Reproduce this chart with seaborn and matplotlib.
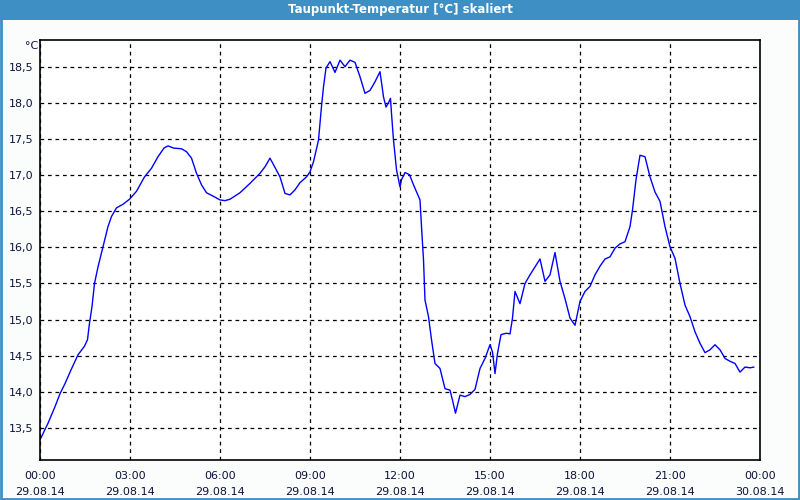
import matplotlib
matplotlib.use("Agg")
import matplotlib.pyplot as plt
import seaborn as sns
import pandas as pd
from matplotlib.patches import Rectangle
from matplotlib.ticker import MultipleLocator

# time in minutes since 29.08.14 00:00
minutes = [0, 16, 30, 40, 50, 62, 76, 89, 95, 99, 104, 109, 116, 126, 136, 143, 153, 166, 179, 193,
           209, 223, 236, 248, 256, 267, 283, 293, 303, 313, 323, 333, 347, 360, 370, 380, 400, 420,
           440, 450, 460, 470, 480, 490, 500, 510, 520, 533, 540, 547, 557, 563, 567, 572, 580, 590,
           600, 610, 620, 630, 640, 650, 660, 670, 680, 687, 692, 697, 701, 703, 707, 713, 720, 723,
           730, 739, 747, 760, 763, 767, 770, 777, 783, 790, 800, 810, 820, 825, 831, 840, 850, 860,
           870, 880, 890, 900, 905, 910, 915, 922, 933, 940, 945, 950, 960, 970, 980, 990, 1000, 1010,
           1020, 1030, 1040, 1050, 1060, 1070, 1080, 1090, 1100, 1110, 1120, 1130, 1140, 1150, 1160,
           1170, 1180, 1185, 1192, 1200, 1210, 1220, 1230, 1240, 1250, 1260, 1270, 1280, 1290, 1300,
           1310, 1320, 1330, 1340, 1350, 1360, 1370, 1380, 1390, 1400, 1410, 1420, 1428]
dewpoint = [13.33, 13.56, 13.79, 13.97, 14.11, 14.30, 14.51, 14.63, 14.72, 14.95, 15.18, 15.50, 15.73,
            16.01, 16.29, 16.43, 16.55, 16.60, 16.67, 16.78, 16.98, 17.10, 17.26, 17.38, 17.41, 17.38,
            17.37, 17.33, 17.24, 17.03, 16.87, 16.76, 16.71, 16.66, 16.65, 16.67, 16.76, 16.89, 17.03,
            17.12, 17.24, 17.11, 16.98, 16.75, 16.73, 16.80, 16.90, 16.98, 17.05, 17.19, 17.49, 17.96,
            18.23, 18.49, 18.58, 18.43, 18.60, 18.51, 18.60, 18.57, 18.37, 18.14, 18.18, 18.30, 18.44,
            18.09, 17.95, 18.01, 18.07, 17.86, 17.49, 17.08, 16.84, 16.94, 17.04, 17.01, 16.87, 16.66,
            16.29, 15.83, 15.27, 15.04, 14.72, 14.39, 14.32, 14.04, 14.02, 13.88, 13.70, 13.95, 13.93,
            13.96, 14.03, 14.32, 14.46, 14.65, 14.55, 14.25, 14.53, 14.79, 14.81, 14.80, 15.02, 15.39,
            15.22, 15.50, 15.62, 15.73, 15.84, 15.53, 15.62, 15.93, 15.53, 15.29, 15.02, 14.92, 15.25,
            15.39, 15.46, 15.62, 15.74, 15.84, 15.87, 15.99, 16.05, 16.08, 16.29, 16.52, 16.94, 17.28,
            17.26, 16.98, 16.77, 16.64, 16.29, 16.01, 15.85, 15.50, 15.20, 15.04, 14.83, 14.67, 14.54,
            14.58, 14.65, 14.58, 14.46, 14.42, 14.39, 14.27, 14.34, 14.33, 14.34]

x_tick_hours = [0, 3, 6, 9, 12, 15, 18, 21, 24]
x_tick_labels = ["00:00\n29.08.14", "03:00\n29.08.14", "06:00\n29.08.14", "09:00\n29.08.14",
                 "12:00\n29.08.14", "15:00\n29.08.14", "18:00\n29.08.14", "21:00\n29.08.14",
                 "00:00\n30.08.14"]
y_ticks = [13.5, 14.0, 14.5, 15.0, 15.5, 16.0, 16.5, 17.0, 17.5, 18.0, 18.5]
y_tick_labels = ["13,5", "14,0", "14,5", "15,0", "15,5", "16,0", "16,5", "17,0", "17,5", "18,0", "18,5"]
title = "Taupunkt-Temperatur [°C] skaliert"
unit = "°C"

sns.set_style("white")
plt.rcParams['font.family'] = ['DejaVu Sans']

df = pd.DataFrame({"hour": [m / 60 for m in minutes], "value": dewpoint})

fig = plt.figure(figsize=(8, 5), dpi=100, facecolor="#fbfdfd")
ax = fig.add_axes([0.05, 0.08, 0.90, 0.84])
ax.set_facecolor("white")

sns.lineplot(data=df, x="hour", y="value", ax=ax, color="#0000ff", linewidth=1.0)

ax.set_xlim(0, 24)
ax.set_ylim(13.05, 18.88)
ax.set_xticks(x_tick_hours)
ax.set_xticklabels(x_tick_labels, fontsize=8, color="#10103a", linespacing=1.75)
ax.xaxis.set_minor_locator(MultipleLocator(1))
ax.set_yticks(y_ticks)
ax.set_yticklabels(y_tick_labels, fontsize=8, color="#10103a")
ax.tick_params(axis="x", which="major", direction="in", length=0, pad=8)
ax.tick_params(axis="x", which="minor", direction="in", length=3, color="black", width=1)
ax.tick_params(axis="y", which="major", length=0, pad=5)
ax.set_xlabel("")
ax.set_ylabel("")
ax.grid(True, which="major", color="black", linestyle=(0, (3, 3)), linewidth=0.9)
for s in ax.spines.values():
    s.set_color("black")
    s.set_linewidth(1.2)
    s.set_visible(True)

ax.text(-0.003, 0.985, unit, transform=ax.transAxes, ha="right", va="center", fontsize=8,
        color="#10103a")

# title bar and frame
fig.patches.append(Rectangle((0, 0.96), 1, 0.04, transform=fig.transFigure,
                             facecolor="#3d8fc4", edgecolor="none", zorder=0))
fig.patches.append(Rectangle((0.001, 0.002), 0.998, 0.996, transform=fig.transFigure,
                             facecolor="none", edgecolor="#3d8fc4", linewidth=2, zorder=1))
fig.text(0.5, 0.98, title, ha="center", va="center", color="white", fontsize=8.5,
         fontweight="bold")

fig.savefig("out.png", dpi=100, facecolor=fig.get_facecolor())
